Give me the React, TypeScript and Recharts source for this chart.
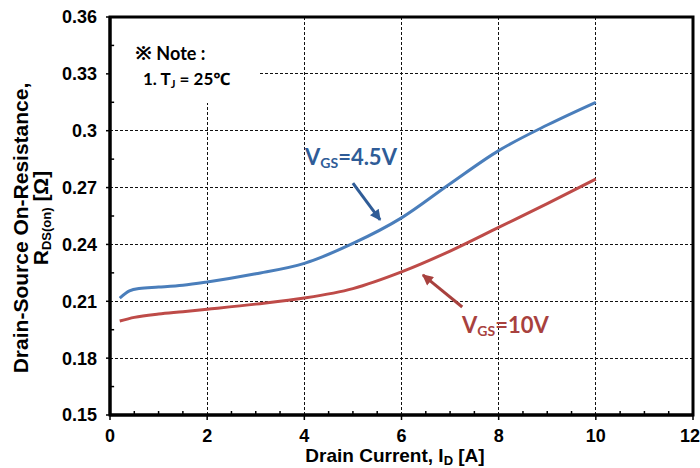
import React from 'react';
import {
  LineChart,
  Line,
  XAxis,
  YAxis,
  CartesianGrid,
  ReferenceArea,
  ReferenceLine,
} from 'recharts';

// Drain current [A]
const blueCurrent = [0.2, 0.4, 0.6, 1, 1.5, 2, 3, 4, 5, 6, 7, 8, 9, 10];
// RDS(on) [Ω] at VGS = 4.5V
const blueRds = [0.2117, 0.2155, 0.2168, 0.2175, 0.2185, 0.2202, 0.2245, 0.23, 0.2405, 0.254, 0.272, 0.2895, 0.303, 0.315];

const redCurrent = [0.2, 0.5, 1, 1.5, 2, 3, 4, 5, 6, 7, 8, 9, 10];
// RDS(on) [Ω] at VGS = 10V
const redRds = [0.1996, 0.2015, 0.2033, 0.2045, 0.2058, 0.2085, 0.2117, 0.2167, 0.2255, 0.2365, 0.249, 0.2615, 0.2745];

const xTicks = [0, 2, 4, 6, 8, 10, 12];
const yTicks = [0.15, 0.18, 0.21, 0.24, 0.27, 0.3, 0.33, 0.36];
const xMinorTicks = [0.5, 1, 1.5, 2.5, 3, 3.5, 4.5, 5, 5.5, 6.5, 7, 7.5, 8.5, 9, 9.5, 10.5, 11, 11.5];
const yMinorTicks = [0.165, 0.195, 0.225, 0.255, 0.285, 0.315, 0.345];

// annotation arrows, data coordinates [from, to]
const blueArrow = [{ x: 5.0, y: 0.2724 }, { x: 5.56, y: 0.2529 }];
const redArrow = [{ x: 7.25, y: 0.207 }, { x: 6.44, y: 0.2239 }];

const blueData = blueCurrent.map((x, i) => ({ x, y: blueRds[i] }));
const redData = redCurrent.map((x, i) => ({ x, y: redRds[i] }));

const BLUE = '#4A7EBB';
const RED = '#BE4B48';
const BLUE_TXT = '#2F5C97';
const RED_TXT = '#A8413E';
const AX_FONT = "'Liberation Sans', Arial, sans-serif";
const CAL_FONT = "Lato, 'Noto Sans', 'DejaVu Sans', 'Noto Sans CJK SC', sans-serif";

const XTick = (props: any) => {
  const { x, y, payload } = props;
  const shift = payload.value === 12 ? -3 : 0;
  return (
    <text x={x + shift} y={y} dy="0.71em" textAnchor="middle" fontSize={18} fontWeight="bold" fill="#000" fontFamily={AX_FONT}>
      {payload.value}
    </text>
  );
};

export default function App() {
  return (
    <div style={{ position: 'absolute', left: 0, top: 0, width: 700, height: 468, background: '#fff' }}>
      <svg width={0} height={0} style={{ position: 'absolute' }}>
        <defs>
          <marker id="arrBlue" viewBox="0 0 10 10" refX="9" refY="5" markerUnits="userSpaceOnUse" markerWidth="12" markerHeight="11" orient="auto">
            <path d="M0,0 L10,5 L0,10 z" fill={BLUE_TXT} />
          </marker>
          <marker id="arrRed" viewBox="0 0 10 10" refX="9" refY="5" markerUnits="userSpaceOnUse" markerWidth="12" markerHeight="11" orient="auto">
            <path d="M0,0 L10,5 L0,10 z" fill={RED_TXT} />
          </marker>
        </defs>
      </svg>
      <LineChart width={700} height={468} margin={{ top: 17, right: 7, bottom: 0, left: 50 }}>
        <CartesianGrid stroke="#111" strokeWidth={1.2} strokeDasharray="3 2" shapeRendering="crispEdges" />
        <XAxis
          type="number"
          dataKey="x"
          domain={[0, 12]}
          ticks={xTicks}
          allowDataOverflow
          height={53}
          tickSize={5}
          tickMargin={9}
          axisLine={{ stroke: '#000', strokeWidth: 3 }}
          tickLine={{ stroke: '#000', strokeWidth: 1.5 }}
          tick={<XTick />}
          interval={0}
        />
        <YAxis
          type="number"
          domain={[0.15, 0.36]}
          ticks={yTicks}
          allowDataOverflow
          width={60}
          tickSize={4}
          tickMargin={9}
          axisLine={{ stroke: '#000', strokeWidth: 3 }}
          tickLine={{ stroke: '#000', strokeWidth: 1.5 }}
          tick={{ fontSize: 18, fontWeight: 'bold', fill: '#000', fontFamily: AX_FONT }}
          interval={0}
        />
        <ReferenceArea x1={0} x2={3.05} y1={0.3146} y2={0.36} fill="#fff" fillOpacity={1} stroke="none" />
        {xMinorTicks.map((t) => (
          <ReferenceLine key={'xm' + t} segment={[{ x: t, y: 0.15 }, { x: t, y: 0.1521 }]} stroke="#000" strokeWidth={1.5} />
        ))}
        {yMinorTicks.map((t) => (
          <ReferenceLine key={'ym' + t} segment={[{ x: 0, y: t }, { x: 0.085, y: t }]} stroke="#000" strokeWidth={1.5} />
        ))}
        <Line data={blueData} dataKey="y" type="monotone" stroke={BLUE} strokeWidth={3} dot={false} isAnimationActive={false} />
        <Line data={redData} dataKey="y" type="monotone" stroke={RED} strokeWidth={3} dot={false} isAnimationActive={false} />
        <ReferenceLine segment={blueArrow} stroke={BLUE_TXT} strokeWidth={3} markerEnd="url(#arrBlue)" />
        <ReferenceLine segment={redArrow} stroke={RED_TXT} strokeWidth={3} markerEnd="url(#arrRed)" />
        <ReferenceArea x1={0} x2={12} y1={0.15} y2={0.36} fill="none" stroke="#000" strokeWidth={3} />
      </LineChart>
      <svg width={700} height={468} style={{ position: 'absolute', left: 0, top: 0, pointerEvents: 'none' }}>
        {/* axis titles */}
        <text x={395} y={462} textAnchor="middle" fontFamily={AX_FONT} fontWeight="bold" fontSize={19} fill="#000">
          Drain Current, I<tspan fontSize={13} dy={3}>D</tspan><tspan dy={-3}> [A]</tspan>
        </text>
        <text transform="translate(28,228) rotate(-90)" textAnchor="middle" fontFamily={AX_FONT} fontWeight="bold" fontSize={21} fill="#000">
          Drain-Source On-Resistance,
        </text>
        <text transform="translate(48,218) rotate(-90)" textAnchor="middle" fontFamily={AX_FONT} fontWeight="bold" fontSize={21} fill="#000">
          R<tspan fontSize={13} dy={3}>DS(on)</tspan><tspan dy={-3}> [Ω]</tspan>
        </text>
        {/* note */}
        <text x={135} y={60} fontFamily={CAL_FONT} fontWeight="bold" fontSize={18} fill="#000">
          <tspan fontSize={20}>※</tspan> Note :
        </text>
        <text x={143} y={85} fontFamily={CAL_FONT} fontWeight="bold" fontSize={17} fill="#000">
          1. T<tspan fontSize={11} dy={3}>J</tspan><tspan dy={-3}> = 25℃</tspan>
        </text>
        {/* series annotations */}
        <text x={305} y={165} fontFamily={CAL_FONT} fontWeight="bold" fontSize={22} fill={BLUE_TXT}>
          V<tspan fontSize={14} dy={3}>GS</tspan><tspan dy={-3}>=4.5V</tspan>
        </text>
        <text x={462} y={333} fontFamily={CAL_FONT} fontWeight="bold" fontSize={22} fill={RED_TXT}>
          V<tspan fontSize={14} dy={3}>GS</tspan><tspan dy={-3}>=10V</tspan>
        </text>
      </svg>
    </div>
  );
}
